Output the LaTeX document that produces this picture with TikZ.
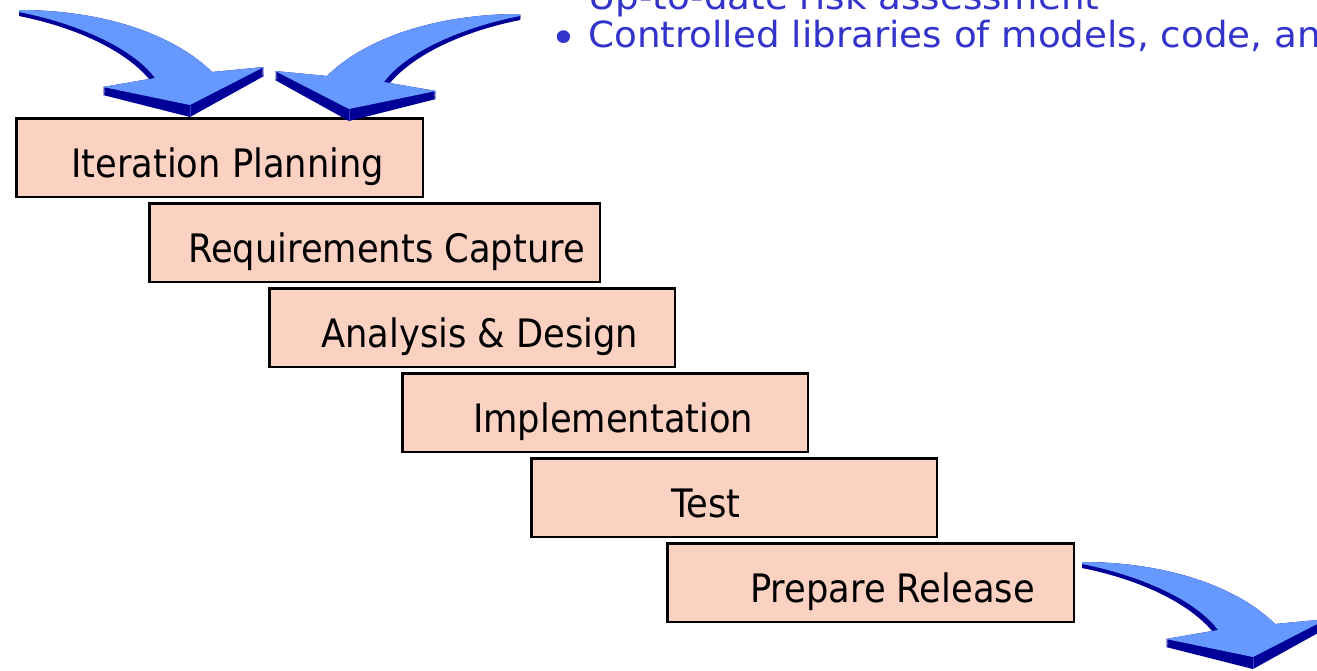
\documentclass[tikz,border=0pt]{standalone}
\usepackage{fontspec}
\setmainfont{DejaVu Sans}[FakeStretch=0.9]
\newfontfamily\topfont{DejaVu Sans}[FakeStretch=1.035]
\definecolor{boxfill}{HTML}{FBD1C1}
\definecolor{arrlight}{HTML}{6699FF}
\definecolor{arrdark}{HTML}{000099}
\definecolor{arredge}{HTML}{3344C8}
\definecolor{bluetext}{HTML}{3333CC}
\newcommand\arrowshape[1]{(19,{10+4*#1}) .. controls (110,{10+5*#1}) and (178,{38+8*#1}) .. (212,{72+9*#1})
 -- (264,{67+9*#1}) -- (190,{105+12*#1}) -- (103,{87+8*#1}) -- (155,{78+9*#1})
 .. controls (132,{47+5*#1}) and (75,{23+4*#1}) .. (19,{12+4*#1}) -- cycle}
\begin{document}
\begin{tikzpicture}[x=1pt,y=-1pt,
  stepbox/.style={draw=black, line width=2.4pt, fill=boxfill, rectangle, inner sep=0pt, anchor=north west, minimum height=78.6pt},
  boxtext/.style={anchor=base west, inner sep=0pt, font=\fontsize{39.2}{47}\selectfont},
  toptext/.style={anchor=base west, inner sep=0pt, text=bluetext, font=\topfont\fontsize{36}{43}\selectfont},
  bigarrow/.pic={
    \foreach \ta in {0,0.1,...,1.01}{\fill[arrdark] \arrowshape{\ta};}
    \fill[arrlight] \arrowshape{0};
    \draw[arredge, line width=0.7pt] (190,105.5) -- (190,117);
  }]
\useasboundingbox (0,0) rectangle (1317,670);
\clip (0,0) rectangle (1317,670);

% top text (partly outside the picture, as in the reference)
\node[toptext] (line1) at (588,9) {Up-to-date risk assessment};
\node[toptext, font=\topfont\fontsize{44}{44}\selectfont] (bullet2) at (550,53) {•};
\node[toptext] (line2) at (588,47) {Controlled libraries of models, code, and};

% steps
\node[stepbox, minimum width=406.6pt] (b1) at (15.2,117.2) {};
\node[stepbox, minimum width=450.6pt] (b2) at (148.2,202.2) {};
\node[stepbox, minimum width=405.6pt] (b3) at (268.2,287.2) {};
\node[stepbox, minimum width=405.6pt] (b4) at (401.2,372.2) {};
\node[stepbox, minimum width=405.6pt] (b5) at (530.2,457.2) {};
\node[stepbox, minimum width=406.6pt] (b6) at (666.2,542.2) {};

\node[boxtext] (t1) at (71,177) {Iteration Planning};
\node[boxtext] (t2) at (188,262) {Requirements Capture};
\node[boxtext] (t3) at (321,347) {Analysis \& Design};
\node[boxtext] (t4) at (473,432) {Implementation};
\node[boxtext] (t5) at (671,517) {Test};
\node[boxtext] (t6) at (750,602) {Prepare Release};

% 3D arrows
\pic (arrA) at (0,0) {bigarrow};
\pic[xscale=-1] (arrB) at (539,4) {bigarrow};
\pic (arrC) at (1063,552) {bigarrow};
\end{tikzpicture}
\end{document}
